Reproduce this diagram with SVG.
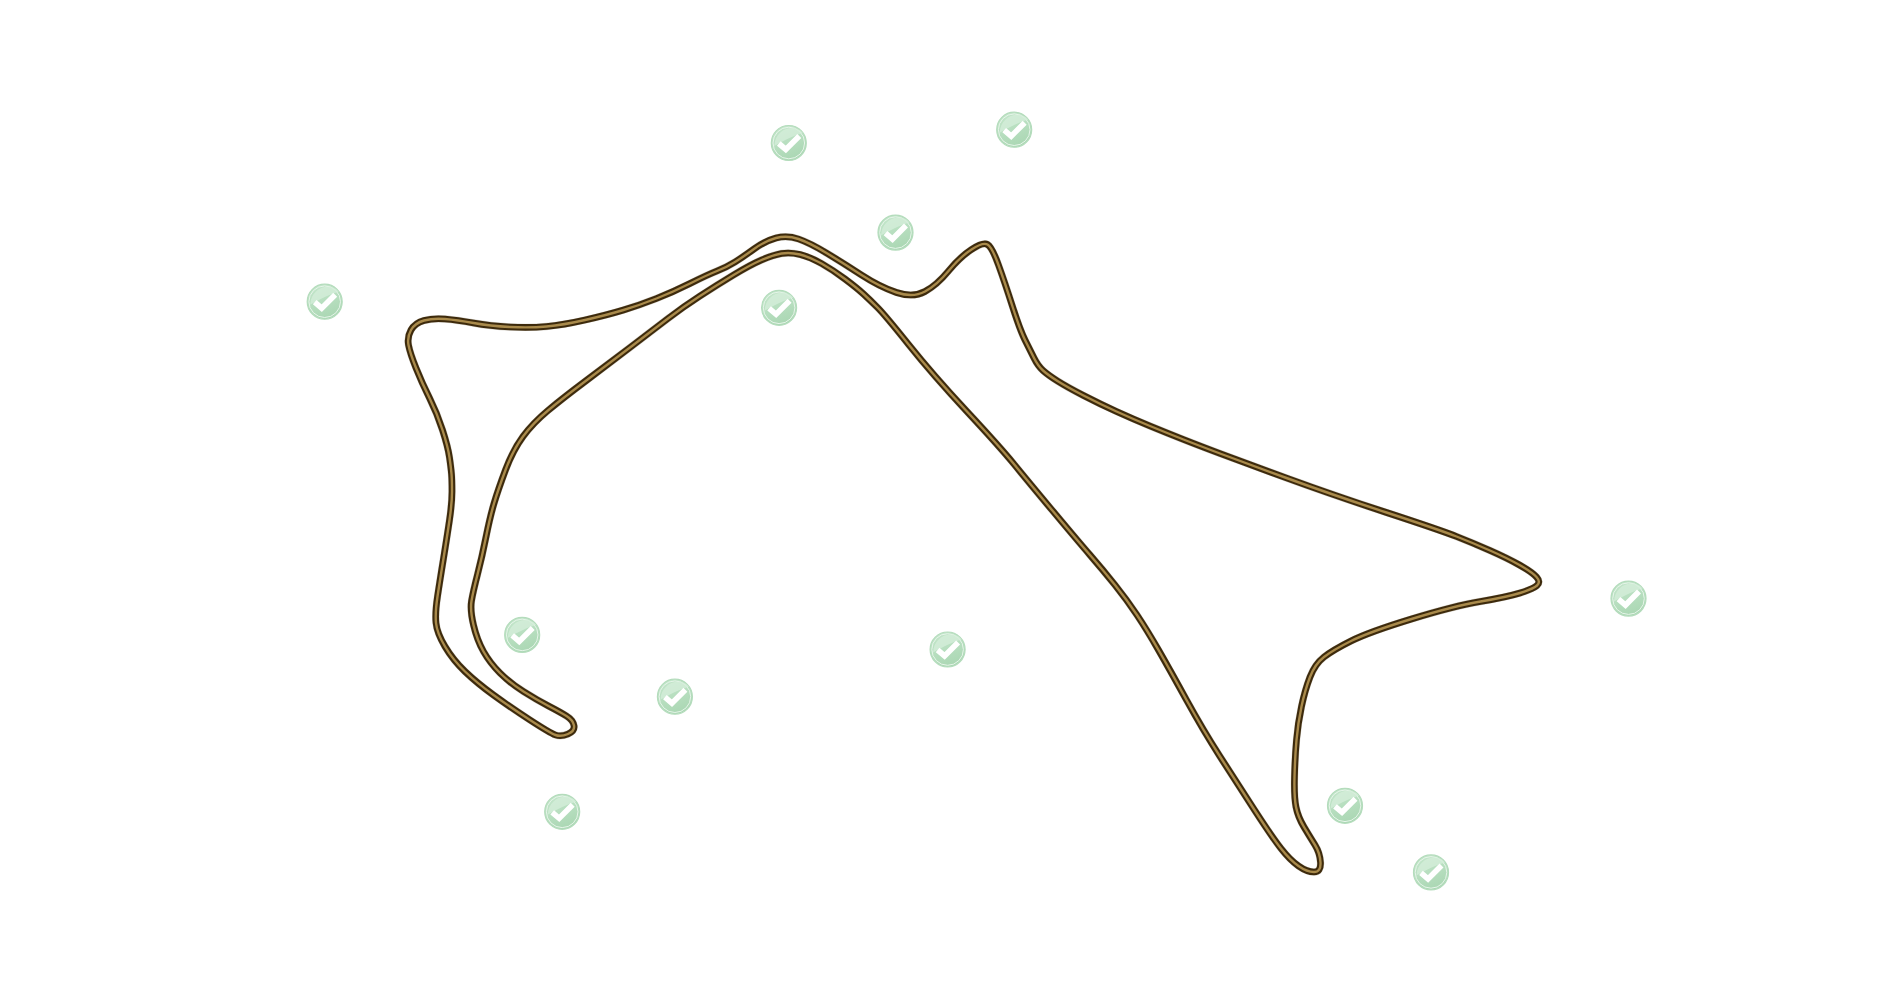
<svg xmlns="http://www.w3.org/2000/svg" width="1900" height="1000" viewBox="0 0 1900 1000">
<style>
.t{fill:none;stroke-linejoin:round}
.h{stroke:#d8d5ce;stroke-width:7.4}
.d{stroke:#3d2a0c;stroke-width:6.6}
.m{stroke:#a98a4b;stroke-width:2.4}
.ring{fill:url(#g);stroke:#b4dcbc;stroke-width:1.2}
.in{fill:none;stroke:#e6f5e9;stroke-width:1}
.hl{fill:#d4eed9;opacity:.8}
.ck{fill:none;stroke:#fff;stroke-width:5.6;stroke-linecap:butt;stroke-linejoin:miter}
</style>
<defs>
<linearGradient id="g" x1="0.3" y1="0" x2="0.7" y2="1"><stop offset="0" stop-color="#c4e6cb"/><stop offset="1" stop-color="#a9d6b2"/></linearGradient>
<path id="track" d="M555.5,735Q550,733 530,720Q510,707 493.5,695Q477,683 465,671.5Q453,660 445,646.5Q437,633 436,623Q435,613 437.5,596.5Q440,580 443.5,558.5Q447,537 449.5,520Q452,503 452,491.5Q452,480 451.5,474Q451,468 449.5,457.5Q448,447 442.5,430Q437,413 429.5,398Q422,383 416,368Q410,353 408.5,345Q407,337 411,330Q415,323 424,320.5Q433,318 445,319Q457,320 473.5,323Q490,326 510,327Q530,328 546.5,326.5Q563,325 585,320Q607,315 623.5,310Q640,305 656.5,298.5Q673,292 690,283.5Q707,275 717,271Q727,267 735,262Q743,257 754,249Q765,241 776,238Q787,235 798.5,239Q810,243 826.5,253Q843,263 861.5,275Q880,287 896.5,292.5Q913,298 925,291.5Q937,285 948.5,271Q960,257 971.5,249.5Q983,242 987.5,244.5Q992,247 998.5,265Q1005,283 1012.5,306.5Q1020,330 1025,340Q1030,350 1034,358Q1038,366 1043,370.5Q1048,375 1057.5,381Q1067,387 1083.5,395.5Q1100,404 1116.5,411.5Q1133,419 1150,426Q1167,433 1183.5,439.5Q1200,446 1220,453.5Q1240,461 1286.5,478Q1333,495 1386.5,512.5Q1440,530 1456.5,536.5Q1473,543 1490,550.5Q1507,558 1519.5,565Q1532,572 1536.5,577Q1541,582 1537,585.5Q1533,589 1520,593Q1507,597 1480.5,601.5Q1454,606 1411.5,619Q1369,632 1351,641Q1333,650 1324,657Q1315,664 1310,677Q1305,690 1301.5,706.5Q1298,723 1296.5,740Q1295,757 1294.5,777Q1294,797 1296,807Q1298,817 1304,827Q1310,837 1315,845Q1320,853 1320.5,862.5Q1321,872 1314,872Q1307,872 1298.5,866Q1290,860 1281,848.5Q1272,837 1254.5,810Q1237,783 1220,756.5Q1203,730 1186.5,700Q1170,670 1158.5,650Q1147,630 1137,615Q1127,600 1115,585Q1103,570 1090,555Q1077,540 1052,510Q1027,480 1013.5,463.5Q1000,447 966.5,411Q933,375 909,345Q885,315 877.5,307.5Q870,300 863.5,294Q857,288 845,279Q833,270 821.5,263.5Q810,257 800,254.5Q790,252 781.5,253.5Q773,255 761.5,260Q750,265 733.5,275Q717,285 700,296Q683,307 668,318.5Q653,330 630,347.5Q607,365 585,381.5Q563,398 548,410.5Q533,423 523,436.5Q513,450 505.5,470Q498,490 494,503.5Q490,517 486,537Q482,557 477.5,574.5Q473,592 471.5,601Q470,610 473.5,625Q477,640 483.5,651.5Q490,663 500,673Q510,683 523.5,691.5Q537,700 548.5,706Q560,712 566.5,716Q573,720 574,725.5Q575,731 568,734Q561,737 555.5,735Z"/>
<g id="icon">
<circle class="ring" r="17.5"/>
<circle class="in" r="15.8"/>
<path class="hl" d="M-14.5,3C-14,-8 -6,-15 3,-15C8,-15 12,-13 14,-10C6,-8 -4,-3 -14.5,3Z"/>
<path class="ck" d="M-10,0.5L-3,6.5L10.5,-7"/>
</g>
</defs>
<g id="connectors">
<use href="#track" class="t h"/>
<use href="#track" class="t d"/>
<use href="#track" class="t m"/>
</g>
<g id="n1" transform="translate(788.8,143)"><use href="#icon"/></g>
<g id="n2" transform="translate(1014.2,129.7)"><use href="#icon"/></g>
<g id="n3" transform="translate(895.5,232.6)"><use href="#icon"/></g>
<g id="n4" transform="translate(324.7,301.7)"><use href="#icon"/></g>
<g id="n5" transform="translate(779.1,307.8)"><use href="#icon"/></g>
<g id="n6" transform="translate(522.2,634.9)"><use href="#icon"/></g>
<g id="n7" transform="translate(674.9,696.7)"><use href="#icon"/></g>
<g id="n8" transform="translate(947.6,649.5)"><use href="#icon"/></g>
<g id="n9" transform="translate(562.2,811.8)"><use href="#icon"/></g>
<g id="n10" transform="translate(1345,805.8)"><use href="#icon"/></g>
<g id="n11" transform="translate(1431,872.4)"><use href="#icon"/></g>
<g id="n12" transform="translate(1628.5,598.6)"><use href="#icon"/></g>
</svg>
